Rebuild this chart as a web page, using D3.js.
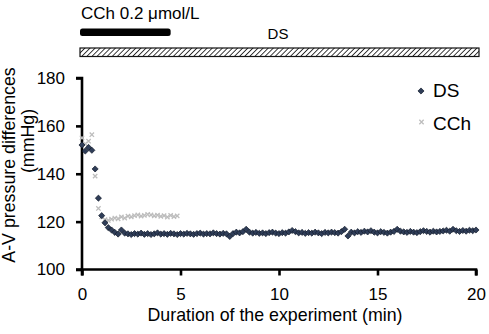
<!DOCTYPE html>
<html>
<head>
<meta charset="utf-8">
<script src="https://cdn.jsdelivr.net/npm/d3@7"></script>
<style>
  body { margin: 0; background: #fff; }
  text { font-family: "Liberation Sans", Arial, sans-serif; fill: #000; }
</style>
</head>
<body>
<svg id="chart"></svg>
<script>
// samples every 10 s (1/6 min)
const stepMin = 1 / 6;

const dsValues = [
  152.0, 149.5, 151.0, 149.8, 142.0, 129.8, 122.5, 119.5, 117.5, 116.5, 115.5, 114.8, 116.5,
  115.2, 114.9, 114.6, 115.0, 114.8, 115.2, 114.7, 115.0, 114.6, 114.9, 115.3, 114.8, 115.0, 114.7, 115.1, 114.9, 114.6,
  115.0, 114.8, 115.1, 114.9, 114.7, 115.0, 115.2, 114.8, 115.0, 114.9, 115.3, 115.0, 114.8, 115.1, 114.9,
  113.8, 115.0, 115.6, 115.3, 115.8, 116.8, 115.6, 115.2, 115.5, 115.1, 115.3, 115.0, 115.4, 115.6, 115.2,
  115.0, 115.4, 115.2, 115.7, 116.3, 115.8, 115.3, 115.5, 115.1, 115.4, 115.2, 115.6, 115.3, 115.0, 115.5,
  115.3, 115.6, 115.4, 115.2, 115.8, 116.8, 114.0, 115.6, 115.3, 115.8, 115.5, 116.0, 115.7, 116.2, 115.6,
  115.3, 115.8, 115.5, 115.2, 115.6, 115.9, 116.8, 116.0, 115.7, 115.5, 115.9, 115.6, 115.4, 115.8, 116.2,
  115.9, 115.6, 116.0, 115.7, 115.9, 116.1, 116.4, 116.0, 116.8, 116.2, 115.9, 116.3, 116.0, 116.4, 116.2, 116.5
];

const cchValues = [
  155.0, 152.5, 153.6, 156.3, 139.0, 125.5, 122.0, 120.8, 120.5, 121.0,
  121.5, 121.2, 122.0, 121.5, 122.3, 122.0, 122.5, 122.8, 122.3, 122.6,
  123.0, 122.8, 122.4, 122.7, 122.2, 122.5, 121.9, 122.6, 122.1, 122.4
];

const xTicks = [0, 5, 10, 15, 20];
const yTicks = [100, 120, 140, 160, 180];
const cchPeriod = [0, 4.5];
const dsPeriod = [0, 20];

const width = 489, height = 334;
const margin = { top: 78, right: 13, bottom: 64.5, left: 82 };

const svg = d3.select("#chart").attr("width", width).attr("height", height);

const x = d3.scaleLinear().domain([0, 20]).range([margin.left, width - margin.right]);
const y = d3.scaleLinear().domain([100, 180]).range([height - margin.bottom, margin.top]);

const ds = dsValues.map((v, i) => ({ t: i * stepMin, v }));
const cch = cchValues.map((v, i) => ({ t: i * stepMin, v }));

// hatch pattern
const defs = svg.append("defs");
const pat = defs.append("pattern")
  .attr("id", "hatch")
  .attr("patternUnits", "userSpaceOnUse")
  .attr("width", 3.6).attr("height", 3.6)
  .attr("patternTransform", "rotate(45)");
pat.append("line")
  .attr("x1", 0).attr("y1", 0).attr("x2", 0).attr("y2", 3.6)
  .attr("stroke", "#1a1a1a").attr("stroke-width", 1.7);

// treatment bars
svg.append("text")
  .attr("x", 81).attr("y", 19)
  .attr("font-size", 17)
  .text("CCh 0.2 μmol/L");

svg.append("rect")
  .attr("x", x(cchPeriod[0]) - 2).attr("y", 28.5)
  .attr("width", x(cchPeriod[1]) - x(cchPeriod[0]) + 2).attr("height", 7.5)
  .attr("rx", 2.5)
  .attr("fill", "#000");

svg.append("text")
  .attr("x", 278).attr("y", 39)
  .attr("text-anchor", "middle")
  .attr("font-size", 15)
  .text("DS");

svg.append("rect")
  .attr("x", x(dsPeriod[0]) - 2).attr("y", 48)
  .attr("width", x(dsPeriod[1]) - x(dsPeriod[0]) + 5).attr("height", 8.5)
  .attr("fill", "url(#hatch)")
  .attr("stroke", "#111").attr("stroke-width", 1.2);

// axes
const xAxis = svg.append("g")
  .attr("transform", `translate(0,${height - margin.bottom})`)
  .call(d3.axisBottom(x).tickValues(xTicks).tickSize(6).tickPadding(12));
const yAxis = svg.append("g")
  .attr("transform", `translate(${margin.left},0)`)
  .call(d3.axisLeft(y).tickValues(yTicks).tickSize(6).tickPadding(11));

[xAxis, yAxis].forEach(g => {
  g.select(".domain").attr("stroke", "#000").attr("stroke-width", 2.6);
  g.selectAll(".tick line").attr("stroke", "#000").attr("stroke-width", 2.6);
  g.selectAll(".tick text")
    .attr("font-size", 17)
    .attr("font-family", "Liberation Sans, Arial, sans-serif")
    .attr("fill", "#000");
});
xAxis.select(".domain").attr("d", `M${x(0)},6V0H${x(20)}V6`);
yAxis.select(".domain").attr("d", `M-6,${y(180)}H0V${y(100)}H-6`);

svg.append("text")
  .attr("x", 275).attr("y", 321)
  .attr("text-anchor", "middle")
  .attr("font-size", 17.8)
  .text("Duration of the experiment (min)");

svg.append("text")
  .attr("transform", "translate(15,165) rotate(-90)")
  .attr("text-anchor", "middle")
  .attr("font-size", 17.8)
  .text("A-V pressure differences");
svg.append("text")
  .attr("transform", "translate(34,141) rotate(-90)")
  .attr("text-anchor", "middle")
  .attr("font-size", 17.8)
  .text("(mmHg)");

// series
const cross = d3.symbol().type(d3.symbolX).size(14);
const diamond = d3.symbol().type(d3.symbolDiamond2).size(24);

svg.append("g").selectAll("path")
  .data(cch)
  .join("path")
  .attr("transform", d => `translate(${x(d.t)},${y(d.v)})`)
  .attr("d", cross)
  .attr("fill", "none")
  .attr("stroke", "#bdbdbd")
  .attr("stroke-width", 1.3);

svg.append("g").selectAll("path")
  .data(ds)
  .join("path")
  .attr("transform", d => `translate(${x(d.t)},${y(d.v)})`)
  .attr("d", diamond)
  .attr("fill", "#2f3d58")
  .attr("stroke", "#111a2a")
  .attr("stroke-width", 0.7);

// legend
const legend = svg.append("g");
legend.append("path")
  .attr("transform", "translate(421,91)")
  .attr("d", diamond)
  .attr("fill", "#2f3d58").attr("stroke", "#111a2a").attr("stroke-width", 0.7);
legend.append("text").attr("x", 433).attr("y", 97).attr("font-size", 19).text("DS");
legend.append("path")
  .attr("transform", "translate(421.5,122)")
  .attr("d", cross)
  .attr("fill", "none").attr("stroke", "#bdbdbd").attr("stroke-width", 1.3);
legend.append("text").attr("x", 433).attr("y", 130).attr("font-size", 19).text("CCh");
</script>
</body>
</html>
